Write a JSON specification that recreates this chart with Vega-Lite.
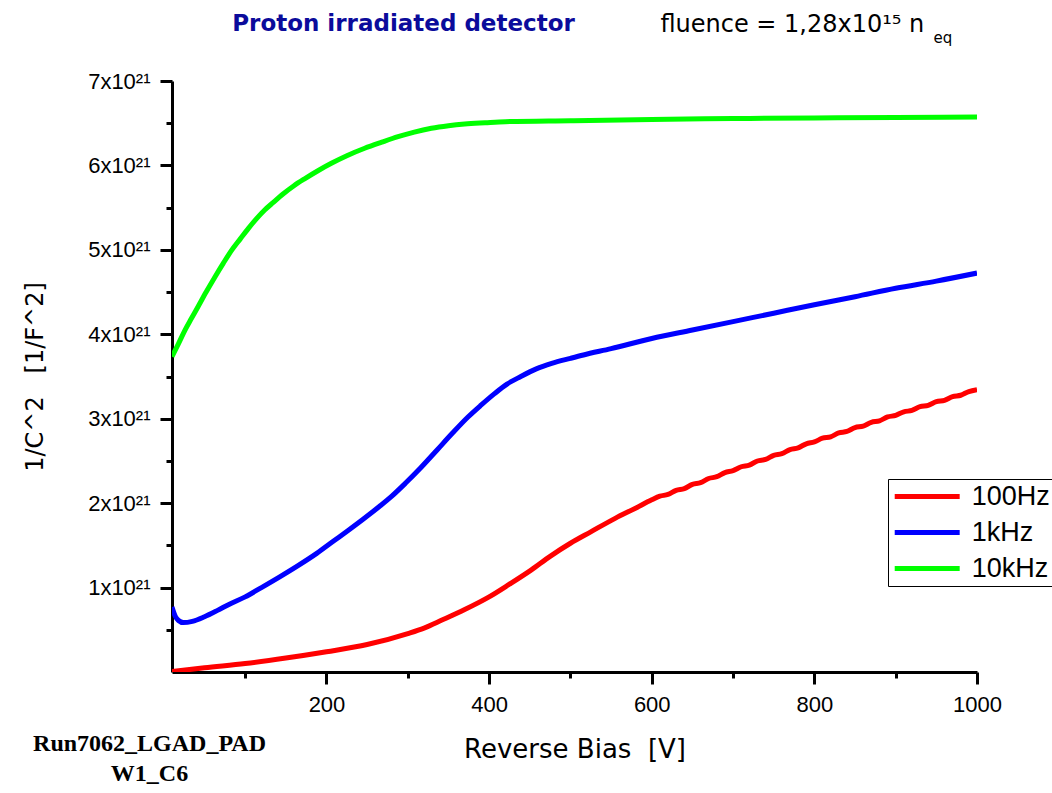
{
  "$schema": "https://vega.github.io/schema/vega-lite/v6.json",
  "width": 805,
  "height": 591,
  "autosize": {"type": "none"},
  "padding": {"left": 172, "top": 81, "right": 75, "bottom": 121},
  "background": "white",
  "config": {"view": {"stroke": null}, "font": "Liberation Sans"},
  "data": {"values": [
    {"freq": "100Hz", "bias": 10, "invC2": 5e18},
    {"freq": "100Hz", "bias": 50, "invC2": 5e19},
    {"freq": "100Hz", "bias": 100, "invC2": 1.0e20},
    {"freq": "100Hz", "bias": 150, "invC2": 1.65e20},
    {"freq": "100Hz", "bias": 200, "invC2": 2.4e20},
    {"freq": "100Hz", "bias": 250, "invC2": 3.25e20},
    {"freq": "100Hz", "bias": 300, "invC2": 4.55e20},
    {"freq": "100Hz", "bias": 320, "invC2": 5.2e20},
    {"freq": "100Hz", "bias": 342, "invC2": 6.15e20},
    {"freq": "100Hz", "bias": 370, "invC2": 7.4e20},
    {"freq": "100Hz", "bias": 400, "invC2": 8.9e20},
    {"freq": "100Hz", "bias": 425, "invC2": 1.04e21},
    {"freq": "100Hz", "bias": 452, "invC2": 1.21e21},
    {"freq": "100Hz", "bias": 475, "invC2": 1.37e21},
    {"freq": "100Hz", "bias": 500, "invC2": 1.525e21},
    {"freq": "100Hz", "bias": 525, "invC2": 1.66e21},
    {"freq": "100Hz", "bias": 555, "invC2": 1.82e21},
    {"freq": "100Hz", "bias": 580, "invC2": 1.94e21},
    {"freq": "100Hz", "bias": 600, "invC2": 2.04e21},
    {"freq": "100Hz", "bias": 610, "invC2": 2.082e21},
    {"freq": "100Hz", "bias": 620, "invC2": 2.103e21},
    {"freq": "100Hz", "bias": 630, "invC2": 2.152e21},
    {"freq": "100Hz", "bias": 640, "invC2": 2.173e21},
    {"freq": "100Hz", "bias": 650, "invC2": 2.222e21},
    {"freq": "100Hz", "bias": 660, "invC2": 2.243e21},
    {"freq": "100Hz", "bias": 670, "invC2": 2.292e21},
    {"freq": "100Hz", "bias": 680, "invC2": 2.313e21},
    {"freq": "100Hz", "bias": 690, "invC2": 2.362e21},
    {"freq": "100Hz", "bias": 700, "invC2": 2.385e21},
    {"freq": "100Hz", "bias": 710, "invC2": 2.431e21},
    {"freq": "100Hz", "bias": 720, "invC2": 2.451e21},
    {"freq": "100Hz", "bias": 730, "invC2": 2.499e21},
    {"freq": "100Hz", "bias": 740, "invC2": 2.519e21},
    {"freq": "100Hz", "bias": 750, "invC2": 2.567e21},
    {"freq": "100Hz", "bias": 760, "invC2": 2.587e21},
    {"freq": "100Hz", "bias": 770, "invC2": 2.635e21},
    {"freq": "100Hz", "bias": 780, "invC2": 2.655e21},
    {"freq": "100Hz", "bias": 790, "invC2": 2.703e21},
    {"freq": "100Hz", "bias": 800, "invC2": 2.725e21},
    {"freq": "100Hz", "bias": 810, "invC2": 2.769e21},
    {"freq": "100Hz", "bias": 820, "invC2": 2.786e21},
    {"freq": "100Hz", "bias": 830, "invC2": 2.832e21},
    {"freq": "100Hz", "bias": 840, "invC2": 2.849e21},
    {"freq": "100Hz", "bias": 850, "invC2": 2.895e21},
    {"freq": "100Hz", "bias": 860, "invC2": 2.912e21},
    {"freq": "100Hz", "bias": 870, "invC2": 2.958e21},
    {"freq": "100Hz", "bias": 880, "invC2": 2.975e21},
    {"freq": "100Hz", "bias": 890, "invC2": 3.021e21},
    {"freq": "100Hz", "bias": 900, "invC2": 3.04e21},
    {"freq": "100Hz", "bias": 910, "invC2": 3.082e21},
    {"freq": "100Hz", "bias": 920, "invC2": 3.098e21},
    {"freq": "100Hz", "bias": 930, "invC2": 3.142e21},
    {"freq": "100Hz", "bias": 940, "invC2": 3.158e21},
    {"freq": "100Hz", "bias": 950, "invC2": 3.202e21},
    {"freq": "100Hz", "bias": 960, "invC2": 3.218e21},
    {"freq": "100Hz", "bias": 970, "invC2": 3.262e21},
    {"freq": "100Hz", "bias": 980, "invC2": 3.278e21},
    {"freq": "100Hz", "bias": 990, "invC2": 3.322e21},
    {"freq": "100Hz", "bias": 1000, "invC2": 3.345e21},
    {"freq": "1kHz", "bias": 10, "invC2": 7.7e20},
    {"freq": "1kHz", "bias": 14, "invC2": 6.6e20},
    {"freq": "1kHz", "bias": 18, "invC2": 6.1e20},
    {"freq": "1kHz", "bias": 24, "invC2": 5.85e20},
    {"freq": "1kHz", "bias": 35, "invC2": 6.0e20},
    {"freq": "1kHz", "bias": 50, "invC2": 6.55e20},
    {"freq": "1kHz", "bias": 66, "invC2": 7.3e20},
    {"freq": "1kHz", "bias": 80, "invC2": 8.0e20},
    {"freq": "1kHz", "bias": 100, "invC2": 8.9e20},
    {"freq": "1kHz", "bias": 120, "invC2": 1.0e21},
    {"freq": "1kHz", "bias": 143, "invC2": 1.13e21},
    {"freq": "1kHz", "bias": 165, "invC2": 1.26e21},
    {"freq": "1kHz", "bias": 188, "invC2": 1.405e21},
    {"freq": "1kHz", "bias": 210, "invC2": 1.56e21},
    {"freq": "1kHz", "bias": 227, "invC2": 1.68e21},
    {"freq": "1kHz", "bias": 245, "invC2": 1.81e21},
    {"freq": "1kHz", "bias": 265, "invC2": 1.96e21},
    {"freq": "1kHz", "bias": 280, "invC2": 2.08e21},
    {"freq": "1kHz", "bias": 297, "invC2": 2.235e21},
    {"freq": "1kHz", "bias": 315, "invC2": 2.41e21},
    {"freq": "1kHz", "bias": 336, "invC2": 2.63e21},
    {"freq": "1kHz", "bias": 355, "invC2": 2.83e21},
    {"freq": "1kHz", "bias": 374, "invC2": 3.02e21},
    {"freq": "1kHz", "bias": 390, "invC2": 3.16e21},
    {"freq": "1kHz", "bias": 407, "invC2": 3.3e21},
    {"freq": "1kHz", "bias": 422, "invC2": 3.41e21},
    {"freq": "1kHz", "bias": 439, "invC2": 3.5e21},
    {"freq": "1kHz", "bias": 458, "invC2": 3.59e21},
    {"freq": "1kHz", "bias": 477, "invC2": 3.655e21},
    {"freq": "1kHz", "bias": 500, "invC2": 3.715e21},
    {"freq": "1kHz", "bias": 516, "invC2": 3.755e21},
    {"freq": "1kHz", "bias": 550, "invC2": 3.83e21},
    {"freq": "1kHz", "bias": 600, "invC2": 3.95e21},
    {"freq": "1kHz", "bias": 650, "invC2": 4.05e21},
    {"freq": "1kHz", "bias": 700, "invC2": 4.15e21},
    {"freq": "1kHz", "bias": 750, "invC2": 4.25e21},
    {"freq": "1kHz", "bias": 800, "invC2": 4.35e21},
    {"freq": "1kHz", "bias": 850, "invC2": 4.445e21},
    {"freq": "1kHz", "bias": 900, "invC2": 4.545e21},
    {"freq": "1kHz", "bias": 950, "invC2": 4.63e21},
    {"freq": "1kHz", "bias": 1000, "invC2": 4.725e21},
    {"freq": "10kHz", "bias": 10, "invC2": 3.735e21},
    {"freq": "10kHz", "bias": 18, "invC2": 3.89e21},
    {"freq": "10kHz", "bias": 26, "invC2": 4.05e21},
    {"freq": "10kHz", "bias": 34, "invC2": 4.19e21},
    {"freq": "10kHz", "bias": 42, "invC2": 4.327e21},
    {"freq": "10kHz", "bias": 52, "invC2": 4.5e21},
    {"freq": "10kHz", "bias": 63, "invC2": 4.682e21},
    {"freq": "10kHz", "bias": 73, "invC2": 4.84e21},
    {"freq": "10kHz", "bias": 83, "invC2": 4.99e21},
    {"freq": "10kHz", "bias": 94, "invC2": 5.13e21},
    {"freq": "10kHz", "bias": 104, "invC2": 5.255e21},
    {"freq": "10kHz", "bias": 114, "invC2": 5.37e21},
    {"freq": "10kHz", "bias": 124, "invC2": 5.472e21},
    {"freq": "10kHz", "bias": 135, "invC2": 5.565e21},
    {"freq": "10kHz", "bias": 145, "invC2": 5.65e21},
    {"freq": "10kHz", "bias": 160, "invC2": 5.76e21},
    {"freq": "10kHz", "bias": 174, "invC2": 5.847e21},
    {"freq": "10kHz", "bias": 190, "invC2": 5.94e21},
    {"freq": "10kHz", "bias": 206, "invC2": 6.025e21},
    {"freq": "10kHz", "bias": 225, "invC2": 6.115e21},
    {"freq": "10kHz", "bias": 247, "invC2": 6.203e21},
    {"freq": "10kHz", "bias": 268, "invC2": 6.275e21},
    {"freq": "10kHz", "bias": 288, "invC2": 6.34e21},
    {"freq": "10kHz", "bias": 308, "invC2": 6.395e21},
    {"freq": "10kHz", "bias": 329, "invC2": 6.44e21},
    {"freq": "10kHz", "bias": 350, "invC2": 6.47e21},
    {"freq": "10kHz", "bias": 370, "invC2": 6.49e21},
    {"freq": "10kHz", "bias": 395, "invC2": 6.505e21},
    {"freq": "10kHz", "bias": 420, "invC2": 6.518e21},
    {"freq": "10kHz", "bias": 500, "invC2": 6.53e21},
    {"freq": "10kHz", "bias": 600, "invC2": 6.545e21},
    {"freq": "10kHz", "bias": 700, "invC2": 6.555e21},
    {"freq": "10kHz", "bias": 800, "invC2": 6.563e21},
    {"freq": "10kHz", "bias": 900, "invC2": 6.568e21},
    {"freq": "10kHz", "bias": 1000, "invC2": 6.575e21}
  ]},
  "layer": [
    {
      "mark": {"type": "line", "strokeWidth": 5, "interpolate": "monotone", "clip": true},
      "encoding": {
        "x": {
          "field": "bias", "type": "quantitative",
          "scale": {"domain": [10, 1000], "nice": false, "zero": false},
          "axis": {
            "orient": "bottom",
            "values": [100, 200, 300, 400, 500, 600, 700, 800, 900, 1000],
            "labelExpr": "datum.value % 200 === 0 ? format(datum.value, 'd') : ''",
            "grid": false,
            "domainColor": "black", "domainWidth": 3,
            "tickColor": "black", "tickWidth": 3,
            "tickSize": {"condition": {"test": "datum.value % 200 === 0", "value": 12}, "value": 6},
            "labelFontSize": 22, "labelColor": "black", "labelPadding": 10,
            "labelFlush": false, "labelOverlap": false,
            "title": "Reverse Bias\u00a0 [V]",
            "titleFont": "DejaVu Sans", "titleFontSize": 26, "titleFontWeight": "normal", "titleColor": "black",
            "titleBaseline": "alphabetic", "titleY": 85, "titleX": 402.5, "titleAlign": "center"
          }
        },
        "y": {
          "field": "invC2", "type": "quantitative",
          "scale": {"domain": [0, 7e21], "nice": false},
          "axis": {
            "orient": "left",
            "values": [5e20, 1e21, 1.5e21, 2e21, 2.5e21, 3e21, 3.5e21, 4e21, 4.5e21, 5e21, 5.5e21, 6e21, 6.5e21, 7e21],
            "labelExpr": "datum.value % 1e21 === 0 ? format(datum.value / 1e21, 'd') + 'x10²¹' : ''",
            "grid": false,
            "domainColor": "black", "domainWidth": 3,
            "tickColor": "black", "tickWidth": 3,
            "tickSize": {"condition": {"test": "datum.value % 1e21 === 0", "value": 12}, "value": 6},
            "labelFontSize": 22, "labelColor": "black", "labelPadding": 10,
            "labelFlush": false, "labelOverlap": false,
            "title": "1/C^2\u00a0\u00a0 [1/F^2]",
            "titleFont": "DejaVu Sans", "titleFontSize": 24, "titleFontWeight": "normal", "titleColor": "black",
            "titleAngle": -90, "titleX": -137, "titleY": 295.5, "titleAlign": "center", "titleBaseline": "middle"
          }
        },
        "color": {
          "field": "freq", "type": "nominal",
          "scale": {"domain": ["100Hz", "1kHz", "10kHz"], "range": ["#ff0000", "#0000ff", "#00ff00"]},
          "legend": {
            "orient": "none", "legendX": 716, "legendY": 398,
            "title": null,
            "symbolType": "M-3,0H3", "symbolStrokeWidth": 5, "symbolSize": 469, "symbolOffset": 21.7,
            "symbolFillColor": "transparent",
            "labelFontSize": 27, "labelColor": "black", "labelOffset": 31, "labelLimit": 300,
            "strokeColor": "black", "fillColor": "white",
            "padding": 4, "rowPadding": 8
          }
        }
      }
    },
    {
      "mark": {"type": "line", "opacity": 0},
      "encoding": {
        "x": {
          "field": "bias", "type": "quantitative",
          "scale": {"domain": [10, 1000], "nice": false, "zero": false},
          "axis": {
            "orient": "top", "domain": false, "ticks": false, "tickSize": 0, "grid": false,
            "values": [610, 946],
            "labelExpr": "datum.value < 800 ? 'fluence = 1,28x10¹⁵ n' : 'eq'",
            "labelFont": "DejaVu Sans",
            "labelFontSize": {"condition": {"test": "datum.value < 800", "value": 24}, "value": 15},
            "labelPadding": {"condition": {"test": "datum.value < 800", "value": 50}, "value": 39},
            "labelAlign": "left", "labelBaseline": "alphabetic",
            "labelColor": "black", "labelFlush": false, "labelOverlap": false, "labelBound": false, "labelLimit": 500,
            "title": "Proton irradiated detector",
            "titleFont": "DejaVu Sans", "titleFontSize": 23, "titleFontWeight": "bold", "titleColor": "#0b0b9b",
            "titleX": 231, "titleY": -51, "titleAlign": "center", "titleBaseline": "alphabetic"
          }
        },
        "y": {
          "field": "invC2", "type": "quantitative",
          "scale": {"domain": [0, 7e21], "nice": false},
          "axis": {
            "orient": "right", "domain": false, "ticks": false, "labels": false, "grid": false,
            "title": ["Run7062_LGAD_PAD", "W1_C6"],
            "titleAngle": 0, "titleX": -828, "titleY": 669, "titleAlign": "center", "titleBaseline": "alphabetic",
            "titleFont": "Liberation Serif", "titleFontSize": 24, "titleFontWeight": "bold", "titleLineHeight": 30, "titleColor": "black"
          }
        }
      }
    }
  ]
}
